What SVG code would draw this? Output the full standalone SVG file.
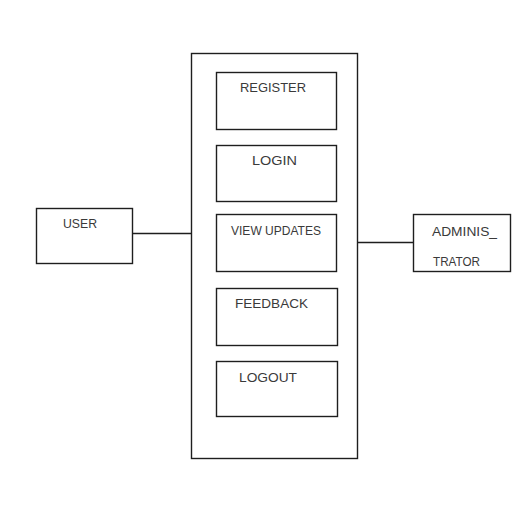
<svg xmlns="http://www.w3.org/2000/svg" width="526" height="506" viewBox="0 0 526 506">
  <style>
    .box { fill: #ffffff; stroke: #1e1e1e; stroke-width: 1.4; }
    .wire { fill: none; stroke: #1e1e1e; stroke-width: 1.4; }
    .lbl { font-family: "Liberation Sans", Arial, sans-serif; font-size: 13px; fill: #3a3a3a; }
  </style>
  <rect x="0" y="0" width="526" height="506" fill="#ffffff"/>

  <!-- connectors -->
  <g id="connectors">
    <line class="wire" x1="133" y1="233.5" x2="191.5" y2="233.5"/>
    <line class="wire" x1="357.5" y1="242.5" x2="413.5" y2="242.5"/>
  </g>

  <!-- system boundary -->
  <g id="system">
    <rect class="box" x="191.5" y="53.5" width="166" height="405"/>
  </g>

  <g id="register">
    <rect class="box" x="216.5" y="72.5" width="120" height="57"/>
    <text class="lbl" x="240" y="92" textLength="66" lengthAdjust="spacingAndGlyphs">REGISTER</text>
  </g>

  <g id="login">
    <rect class="box" x="216.5" y="145.5" width="120" height="56"/>
    <text class="lbl" x="252" y="164.5" textLength="45" lengthAdjust="spacingAndGlyphs">LOGIN</text>
  </g>

  <g id="view-updates">
    <rect class="box" x="216.5" y="214.5" width="120" height="57"/>
    <text class="lbl" x="231" y="234.5" textLength="90" lengthAdjust="spacingAndGlyphs">VIEW UPDATES</text>
  </g>

  <g id="feedback">
    <rect class="box" x="216.5" y="288.5" width="121" height="57"/>
    <text class="lbl" x="235" y="307.5" textLength="73" lengthAdjust="spacingAndGlyphs">FEEDBACK</text>
  </g>

  <g id="logout">
    <rect class="box" x="216.5" y="361.5" width="121" height="55"/>
    <text class="lbl" x="239" y="381.5" textLength="58" lengthAdjust="spacingAndGlyphs">LOGOUT</text>
  </g>

  <g id="user">
    <rect class="box" x="36.5" y="208.5" width="96" height="55"/>
    <text class="lbl" x="63" y="228" textLength="34" lengthAdjust="spacingAndGlyphs">USER</text>
  </g>

  <g id="administrator">
    <rect class="box" x="413.5" y="214.5" width="97" height="57"/>
    <text class="lbl" x="432" y="235.5" textLength="65" lengthAdjust="spacingAndGlyphs">ADMINIS_</text>
    <text class="lbl" x="433" y="266" textLength="47" lengthAdjust="spacingAndGlyphs">TRATOR</text>
  </g>
</svg>
